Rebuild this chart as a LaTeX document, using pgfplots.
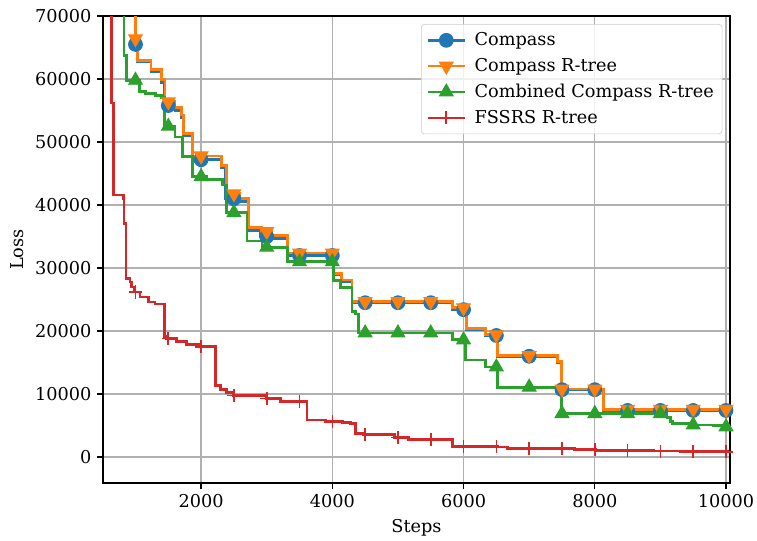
\documentclass[border=0pt]{standalone}
\usepackage{fontspec}
\setmainfont{DejaVu Serif}
\usepackage{pgfplots}
\pgfplotsset{compat=1.18}
\definecolor{c0}{HTML}{1F77B4}
\definecolor{c1}{HTML}{FF7F0E}
\definecolor{c2}{HTML}{2CA02C}
\definecolor{c3}{HTML}{D62728}
\begin{document}
\begin{tikzpicture}
\begin{axis}[name=ax, scale only axis, width=382.5pt, height=284.9pt,
  xmin=504, xmax=10060, ymin=-4130, ymax=70000,
  xtick={2000,4000,6000,8000,10000}, ytick={0,10000,20000,30000,40000,50000,60000,70000},
  grid=major, grid style={color=black!31, line width=0.8pt},
  axis line style={line width=0.8pt, black},
  tick align=outside, major tick length=3.5pt, tick style={line width=0.8pt, black},
  xtick pos=left, ytick pos=left, scaled ticks=false,
  /pgf/number format/1000 sep={}, /pgf/number format/assume math mode=true,
  ticklabel style={font=\fontsize{10.8}{13}\selectfont},
  label style={font=\fontsize{10.8}{13}\selectfont},
  xlabel={Steps}, ylabel={Loss},
  legend cell align=left,
  legend style={at={(0.988,0.983)}, anchor=north east, draw=black!20, rounded corners=2pt,
    fill=white, fill opacity=0.8, text opacity=1, font=\fontsize{10.8}{13}\selectfont,
    inner sep=3pt, row sep=2.2pt,
    /tikz/every odd column/.append style={column sep=3pt}},
  legend image code/.code={\draw[fill opacity=1, draw opacity=1, mark repeat=2, mark phase=2] plot coordinates {(0cm,0cm)(0.4cm,0cm)(0.8cm,0cm)};},
]
% Compass
\addplot[c0, line width=1.7pt, const plot, mark=none, forget plot] coordinates {
(985,90000)(998,65500)(1030,62700)(1237,61200)(1400,59500)(1440,55800)(1603,55000)(1705,53900)(1730,51000)(1860,47200)(2316,46000)(2370,41000)(2585,40600)(2722,36000)(2900,35000)(3080,34700)(3318,32000)(4020,28900)(4140,27900)(4300,24500)(5828,23400)(6047,20200)(6337,19300)(6515,16000)(7430,15000)(7490,10700)(8130,7400)(10050,7400)};
\addplot[c0, only marks, mark=*, mark size=4.2pt, mark options={draw=c0, fill=c0, line width=0.6pt}, forget plot] coordinates {
(1000,65500)(1500,55800)(2000,47200)(2500,41000)(3000,35000)(3500,32000)(4000,32000)(4500,24500)(5000,24500)(5500,24500)(6000,23400)(6500,19300)(7000,16000)(7500,10700)(8000,10700)(8500,7400)(9000,7400)(9500,7400)(10000,7400)};
% Compass R-tree
\addplot[c1, line width=1.7pt, const plot, mark=none, forget plot] coordinates {
(985,90000)(998,66400)(1030,63000)(1237,61500)(1400,59900)(1450,56400)(1603,55500)(1705,54300)(1730,51300)(1873,47800)(2316,46300)(2382,41800)(2585,41000)(2722,36400)(2920,35800)(3080,35200)(3318,32400)(4020,29100)(4140,28100)(4300,24700)(5828,23700)(6047,20400)(6337,19400)(6515,16100)(7430,15200)(7490,10800)(8130,7600)(10050,7600)};
\addplot[c1, only marks, mark=triangle*, mark size=4.8pt, mark options={rotate=180, draw=c1, fill=c1, line width=0.6pt}, forget plot] coordinates {
(1000,66400)(1500,56400)(2000,47800)(2500,41800)(3000,35800)(3500,32400)(4000,32400)(4500,24700)(5000,24700)(5500,24700)(6000,23700)(6500,19400)(7000,16100)(7500,10800)(8000,10800)(8500,7600)(9000,7600)(9500,7600)(10000,7600)};
% Combined Compass R-tree
\addplot[c2, line width=1.7pt, const plot, mark=none, forget plot] coordinates {
(824,90000)(825,63800)(865,59800)(1058,58000)(1150,57700)(1300,57400)(1400,57100)(1440,52500)(1603,50800)(1721,47700)(1873,44500)(2087,44100)(2331,43200)(2382,38800)(2698,34300)(2927,33300)(3318,31000)(4020,28000)(4130,26900)(4300,23100)(4352,22700)(4402,19700)(5828,18600)(6031,15400)(6337,14300)(6520,11100)(7490,6900)(9060,6900)(9100,6300)(9150,5700)(9187,5300)(9500,5100)(9800,4950)(10050,4800)};
\addplot[c2, only marks, mark=triangle*, mark size=4.8pt, mark options={draw=c2, fill=c2, line width=0.6pt}, forget plot] coordinates {
(1000,59800)(1500,52500)(2000,44500)(2500,38800)(3000,33300)(3500,31000)(4000,31000)(4500,19700)(5000,19700)(5500,19700)(6000,18600)(6500,14300)(7000,11100)(7500,6900)(8000,6900)(8500,6900)(9000,6900)(9500,5100)(10000,4800)};
% FSSRS R-tree
\addplot[c3, line width=1.7pt, const plot, mark=none, forget plot] coordinates {
(620,90000)(636,56200)(661,41600)(813,41100)(824,37100)(855,28400)(916,27800)(942,27000)(990,26200)(1069,25400)(1195,24600)(1298,24300)(1440,19100)(1470,18800)(1629,18300)(1782,17900)(1985,17500)(2214,11400)(2290,10700)(2392,10200)(2490,9800)(2990,9300)(3206,8800)(3614,5900)(3900,5700)(4150,5500)(4275,5300)(4352,3800)(4480,3600)(4950,3100)(5166,2800)(5828,1700)(6515,1600)(6668,1400)(7685,1200)(8017,1100)(8400,1000)(8900,950)(9300,900)(9700,850)(10050,850)};
\addplot[c3, only marks, mark=+, mark size=4pt, mark options={line width=1pt}, forget plot] coordinates {
(1000,26200)(1500,18800)(2000,17500)(2500,9800)(3000,9300)(3500,8800)(4000,5700)(4500,3600)(5000,3100)(5500,2800)(6000,1700)(6500,1700)(7000,1400)(7500,1400)(8000,1200)(8500,1000)(9000,950)(9500,900)(10000,850)};
\addlegendimage{c0, line width=1.7pt, mark=*, mark size=4.2pt, mark options={draw=c0, fill=c0, line width=0.6pt}}
\addlegendentry{Compass}
\addlegendimage{c1, line width=1.7pt, mark=triangle*, mark size=4.8pt, mark options={rotate=180, draw=c1, fill=c1, line width=0.6pt}}
\addlegendentry{Compass R-tree}
\addlegendimage{c2, line width=1.7pt, mark=triangle*, mark size=4.8pt, mark options={draw=c2, fill=c2, line width=0.6pt}}
\addlegendentry{Combined Compass R-tree}
\addlegendimage{c3, line width=1.7pt, mark=+, mark size=4pt, mark options={line width=1pt}}
\addlegendentry{FSSRS R-tree}
\end{axis}
\pgfresetboundingbox
\path[use as bounding box] ([shift={(-62.8pt,-34.8pt)}]ax.south west) rectangle ([shift={(16.5pt,9.8pt)}]ax.north east);
\end{tikzpicture}
\end{document}
